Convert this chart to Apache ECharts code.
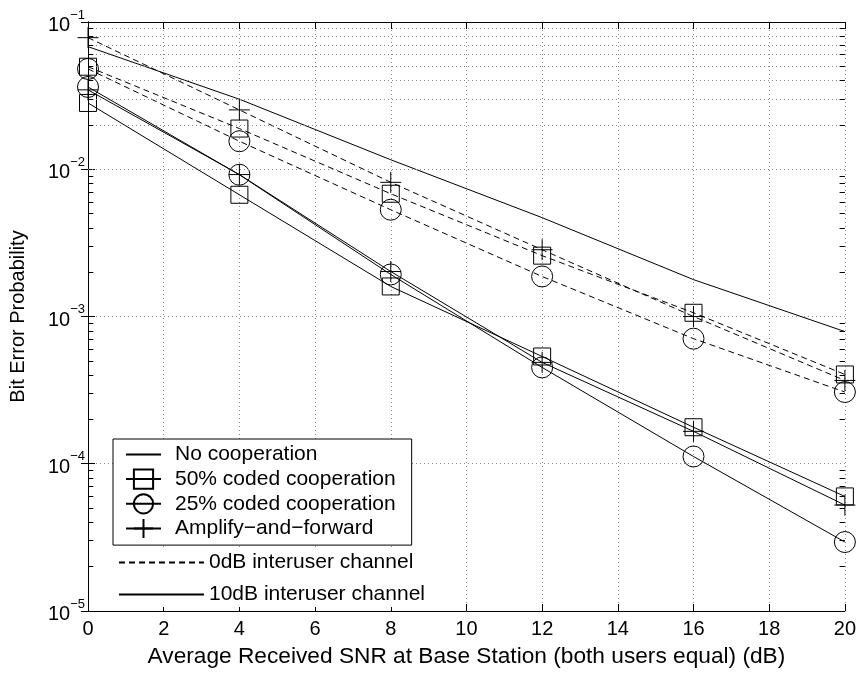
<!DOCTYPE html>
<html>
<head>
<meta charset="utf-8">
<script src="https://cdn.jsdelivr.net/npm/echarts@6/dist/echarts.min.js"></script>
<style>html,body{margin:0;padding:0;background:#fff;}#c{width:859px;height:673px;}</style>
</head>
<body>
<div id="c"></div>
<script>
const snr = [0, 4, 8, 12, 16, 20];
const noCoop       = [0.068, 0.0299, 0.0116, 0.00469, 0.00178, 0.00079];
const coded50_0dB  = [0.0497, 0.0189, 0.00682, 0.00259, 0.00106, 0.000404];
const coded25_0dB  = [0.048, 0.0155, 0.00531, 0.00187, 0.000707, 0.000307];
const af_0dB       = [0.0783, 0.0253, 0.00815, 0.00284, 0.00100, 0.000368];
const coded50_10dB = [0.0282, 0.00671, 0.00160, 0.000535, 0.000177, 0.000060];
const coded25_10dB = [0.0362, 0.00918, 0.00193, 0.000451, 0.000112, 0.0000294];
const af_10dB      = [0.0346, 0.0092, 0.00202, 0.000488, 0.000166, 0.0000524];
const xTicks = [0, 2, 4, 6, 8, 10, 12, 14, 16, 18, 20];
const yDecades = [-5, -4, -3, -2, -1];
const legendBox = ['No cooperation', '50% coded cooperation', '25% coded cooperation', 'Amplify\u2212and\u2212forward'];
const legendChannel = ['0dB interuser channel', '10dB interuser channel'];

const FONT = '"Liberation Sans", Arial, Helvetica, sans-serif';
const PLUS = 'path://M0,10 L20,10 M10,0 L10,20';
const DASH = [6, 4];

function pairs(ys) { return snr.map((x, i) => [x, ys[i]]); }

const minorVals = [];
for (let d = -5; d < -1; d++) for (let k = 2; k <= 9; k++) minorVals.push(k * Math.pow(10, d));

const gridStyle = { color: '#8a8a8a', width: 1, type: [1, 3] };

function mk(name, data, symbol, size, dashed) {
  return {
    type: 'line', name: name, data: data ? pairs(data) : [],
    symbol: symbol, symbolSize: size, showSymbol: symbol !== 'none',
    lineStyle: { color: '#000', width: 1, type: dashed ? DASH : 'solid' },
    itemStyle: { color: 'rgba(0,0,0,0)', borderColor: '#000', borderWidth: symbol === 'none' ? 0 : 1 },
    emphasis: { disabled: true }, silent: true, animation: false, z: 3
  };
}

const series = [
  mk('s_noCoop', noCoop, 'none', 0, false),
  mk('s_c50_0', coded50_0dB, 'rect', 17, true),
  mk('s_c25_0', coded25_0dB, 'circle', 21, true),
  mk('s_af_0', af_0dB, PLUS, 21, true),
  mk('s_c50_10', coded50_10dB, 'rect', 17, false),
  mk('s_c25_10', coded25_10dB, 'circle', 21, false),
  mk('s_af_10', af_10dB, PLUS, 21, false),
  // legend-only entries
  mk(legendBox[0], null, 'none', 0, false),
  mk(legendBox[1], null, 'rect', 17, false),
  mk(legendBox[2], null, 'circle', 21, false),
  mk(legendBox[3], null, PLUS, 21, false),
  mk(legendChannel[0], null, 'none', 0, true),
  mk(legendChannel[1], null, 'none', 0, false),
  // minor grid lines and minor ticks
  {
    type: 'line', data: [], silent: true, animation: false, z: 1,
    markLine: {
      silent: true, symbol: 'none', label: { show: false }, animation: false,
      lineStyle: gridStyle,
      data: minorVals.map(v => ({ yAxis: v }))
        .concat(minorVals.map(v => [{ coord: [0, v], lineStyle: { color: '#000', type: 'solid', width: 1 } }, { coord: [0.14, v] }]))
        .concat(minorVals.map(v => [{ coord: [19.86, v], lineStyle: { color: '#000', type: 'solid', width: 1 } }, { coord: [20, v] }]))
    }
  }
];

const chart = echarts.init(document.getElementById('c'), null, { renderer: 'canvas' });
chart.setOption({
  backgroundColor: '#fff',
  animation: false,
  textStyle: { fontFamily: FONT, color: '#000' },
  grid: { left: 88, right: 13, top: 22, bottom: 61, containLabel: false },
  xAxis: [{
    type: 'value', min: 0, max: 20, interval: 2, position: 'bottom',
    name: 'Average Received SNR at Base Station (both users equal) (dB)',
    nameLocation: 'middle', nameGap: 34,
    nameTextStyle: { fontSize: 22.7, fontFamily: FONT, color: '#000' },
    axisLine: { show: true, lineStyle: { color: '#000', width: 1 } },
    axisTick: { show: true, inside: true, length: 7, lineStyle: { color: '#000' } },
    axisLabel: { fontSize: 20, fontFamily: FONT, color: '#000', margin: 8 },
    splitLine: { show: true, lineStyle: gridStyle }
  }, {
    type: 'value', min: 0, max: 20, interval: 2, position: 'top',
    axisLine: { show: true, lineStyle: { color: '#000', width: 1 } },
    axisTick: { show: true, inside: true, length: 7, lineStyle: { color: '#000' } },
    axisLabel: { show: false }, splitLine: { show: false }
  }],
  yAxis: [{
    type: 'log', logBase: 10, min: 1e-5, max: 1e-1, position: 'left',
    name: 'Bit Error Probability', nameLocation: 'middle', nameGap: 60,
    nameTextStyle: { fontSize: 20, fontFamily: FONT, color: '#000' },
    axisLine: { show: true, lineStyle: { color: '#000', width: 1 } },
    axisTick: { show: true, inside: true, length: 7, lineStyle: { color: '#000' } },
    axisLabel: {
      margin: 3,
      formatter: function (v) { const e = Math.round(Math.log10(v)); return '{b|10}{s|\u2212' + (-e) + '}'; },
      rich: {
        b: { fontSize: 20, fontFamily: FONT, color: '#000', verticalAlign: 'bottom' },
        s: { fontSize: 13, fontFamily: FONT, color: '#000', verticalAlign: 'bottom', padding: [0, 0, 14, 0] }
      }
    },
    splitLine: { show: true, lineStyle: gridStyle }
  }, {
    type: 'log', logBase: 10, min: 1e-5, max: 1e-1, position: 'right',
    axisLine: { show: true, lineStyle: { color: '#000', width: 1 } },
    axisTick: { show: true, inside: true, length: 7, lineStyle: { color: '#000' } },
    axisLabel: { show: false }, splitLine: { show: false }
  }],
  legend: [{
    data: legendBox, orient: 'vertical', left: 113, top: 439,
    padding: [5, 16, 6, 12], itemWidth: 35, itemHeight: 24, itemGap: 3.5,
    borderColor: '#000', borderWidth: 1, backgroundColor: '#fff', borderRadius: 0,
    selectedMode: false, z: 10,
    textStyle: { fontSize: 21, fontFamily: FONT, color: '#000', padding: [0, 0, 0, 9] }
  }, {
    data: legendChannel, orient: 'vertical', left: 116, top: 550,
    padding: [2, 6, 2, 2], itemWidth: 85, itemHeight: 20, itemGap: 11,
    backgroundColor: '#fff', selectedMode: false, z: 10,
    textStyle: { fontSize: 21, fontFamily: FONT, color: '#000' }
  }],
  series: series
});
</script>
</body>
</html>
